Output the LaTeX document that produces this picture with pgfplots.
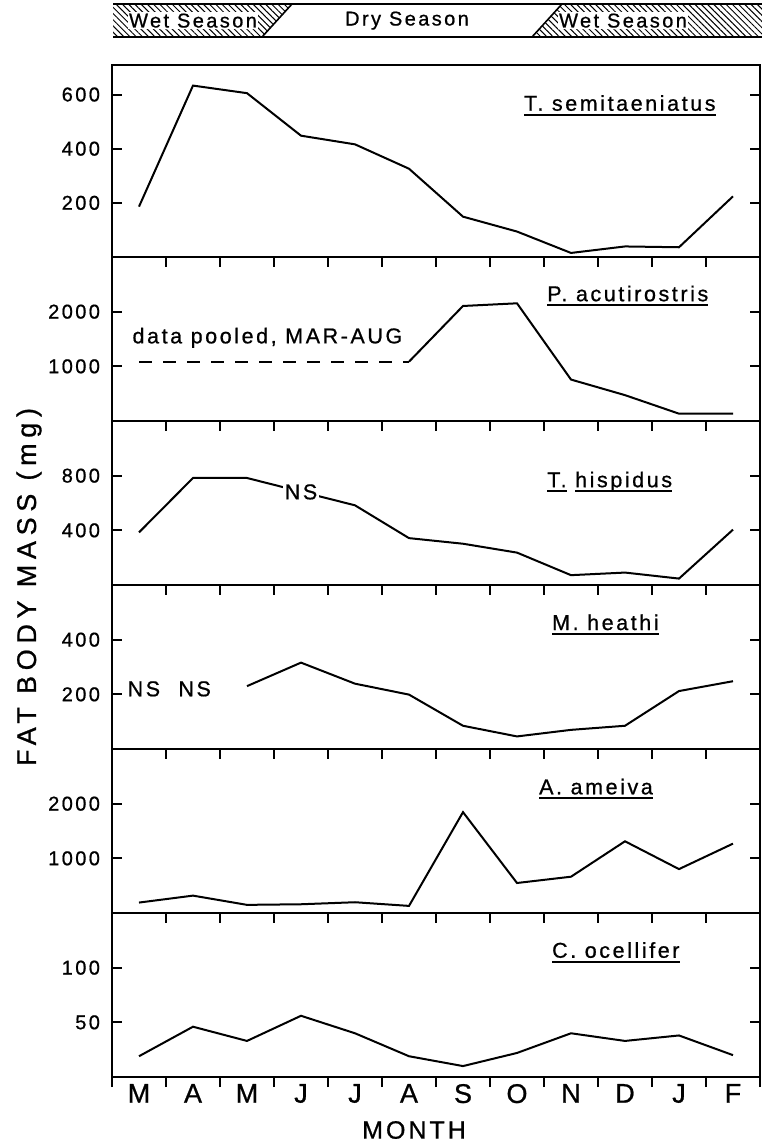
\documentclass[border=0pt]{standalone}
\usepackage{fontspec}
\setmainfont{Liberation Sans}[LetterSpace=12, FakeBold=0.8]
\usepackage{pgfplots}
\pgfplotsset{compat=1.18}
\usetikzlibrary{patterns.meta}

\newcommand\ul[1]{\setbox0\hbox{#1}\rlap{\rule[-2.4pt]{\wd0}{1pt}}\box0}

\pgfplotsset{
  panel/.style={
    scale only axis, width=324pt, height=82pt, anchor=north west,
    xmin=-0.5, xmax=11.5, ymin=0,
    xtick={-0.5,0.5,...,11.5}, xticklabels={},
    xtick pos=right, ytick pos=both, tick align=inside,
    major tick length=5pt,
    axis line style={line width=1.1pt},
    every tick/.style={black, line width=1pt},
    yticklabel style={font=\fontsize{10}{11}\selectfont, xshift=-2.5pt},
    /pgf/number format/assume math mode=true,
    /pgf/number format/set thousands separator={},
  },
}
\tikzset{
  fat/.style={black, line width=1pt},
  sp/.style={font=\fontsize{10.75}{12}\selectfont, anchor=west},
}

\begin{document}
\begin{tikzpicture}
\useasboundingbox (0,0) rectangle (380.5pt,-572.5pt);

% season band
\fill[pattern={Lines[angle=135,distance=2.2pt,line width=0.5pt]}]
  (56.5pt,-2pt) -- (146pt,-2pt) -- (131pt,-18.5pt) -- (56.5pt,-18.5pt) -- cycle;
\fill[pattern={Lines[angle=135,distance=2.2pt,line width=0.5pt]}]
  (281pt,-2pt) -- (381pt,-2pt) -- (381pt,-18.5pt) -- (266pt,-18.5pt) -- cycle;
\draw[line width=0.8pt] (131pt,-18.5pt) -- (146pt,-2pt);
\draw[line width=0.8pt] (266pt,-18.5pt) -- (281pt,-2pt);
\draw[line width=1pt] (56.5pt,-2pt) -- (381pt,-2pt);
\draw[line width=1pt] (56.5pt,-18.5pt) -- (381pt,-18.5pt);
\begin{scope}[every node/.style={font=\fontsize{10}{12}\selectfont, fill=white, inner sep=0.6pt}]
  \node at (96.5pt,-10.3pt) {Wet Season};
  \node at (203.5pt,-10.3pt) {Dry Season};
  \node at (311.5pt,-10.3pt) {Wet Season};
\end{scope}

% T. semitaeniatus
\begin{axis}[panel, at={(56pt,-32.5pt)}, height=96pt, ymax=709,
  xtick=\empty, ytick={200,400,600}]
  \addplot[fat] coordinates {(0,186)(1,633)(2,605)(3,448)(4,416)(5,326)
    (6,149)(7,94)(8,15)(9,39)(10,36)(11,224)};
  \node[sp] at (axis cs:7.0,560) {\ul{T. semitaeniatus}};
\end{axis}

% P. acutirostris
\begin{axis}[panel, at={(56pt,-128.5pt)}, ymax=3000, ytick={1000,2000}]
  \addplot[fat, dash pattern=on 6.5pt off 5.5pt] coordinates {(0,1085)(5,1085)};
  \addplot[fat] coordinates {(5,1085)(6,2104)(7,2153)(8,758)(9,473)(10,134)(11,134)};
  \node[sp] at (axis cs:7.43,2290) {\ul{P. acutirostris}};
  \node[sp] at (axis cs:-0.25,1522) {data pooled, MAR-AUG};
\end{axis}

% T. hispidus
\begin{axis}[panel, at={(56pt,-210.5pt)}, ymax=1200, ytick={400,800}]
  \addplot[fat] coordinates {(0,385)(1,783)(2,783)(4,583)(5,343)(6,302)
    (7,237)(8,72)(9,91)(10,47)(11,405)};
  \node[fill=white, inner sep=1pt, font=\fontsize{10.75}{12}\selectfont] at (axis cs:3,681) {NS};
  \node[sp] at (axis cs:7.43,755) {\ul{T.}\ \ul{hispidus}};
\end{axis}

% M. heathi
\begin{axis}[panel, at={(56pt,-292.5pt)}, ymax=600, ytick={200,400}]
  \addplot[fat] coordinates {(2,230)(3,316)(4,239)(5,199)(6,85)(7,46)
    (8,70)(9,85)(10,212)(11,248)};
  \node[font=\fontsize{10.75}{12}\selectfont] at (axis cs:0.09,220) {NS};
  \node[font=\fontsize{10.75}{12}\selectfont] at (axis cs:1.03,220) {NS};
  \node[sp] at (axis cs:7.52,455) {\ul{M. heathi}};
\end{axis}

% A. ameiva
\begin{axis}[panel, at={(56pt,-374.5pt)}, ymax=3000, ytick={1000,2000}]
  \addplot[fat] coordinates {(0,191)(1,318)(2,149)(3,160)(4,197)(5,130)
    (6,1845)(7,549)(8,664)(9,1312)(10,803)(11,1269)};
  \node[sp] at (axis cs:7.28,2270) {\ul{A. ameiva}};
\end{axis}

% C. ocellifer
\begin{axis}[panel, at={(56pt,-456.5pt)}, ymax=150, ytick={50,100}]
  \addplot[fat] coordinates {(0,19)(1,46)(2,33)(3,56)(4,40)(5,19)
    (6,10)(7,22)(8,40)(9,33)(10,38)(11,20)};
  \node[sp] at (axis cs:7.52,114) {\ul{C. ocellifer}};
\end{axis}

% month axis under the last panel
\begin{axis}[scale only axis, width=324pt, height=82pt, anchor=north west,
  at={(56pt,-456.5pt)}, xmin=-0.5, xmax=11.5, ymin=0, ymax=150,
  axis line style={draw=none}, ytick=\empty,
  xtick={0,...,11}, xticklabels={M,A,M,J,J,A,S,O,N,D,J,F},
  xtick pos=left, tick align=outside, major tick length=0pt,
  minor xtick={-0.5,0.5,...,11.5}, minor tick length=5pt,
  every tick/.style={black, line width=1pt},
  xticklabel style={font=\fontsize{13.5}{15}\selectfont, yshift=0pt}]
  \addplot[draw=none] coordinates {(0,0)};
\end{axis}

\node[font=\fontsize{12.5}{14}\selectfont] at (207pt,-565pt) {MONTH};
\node[font=\fontsize{13.5}{15}\selectfont\addfontfeature{LetterSpace=21}, rotate=90]
  at (14.5pt,-293.5pt) {FAT BODY MASS (mg)};
\end{tikzpicture}
\end{document}
